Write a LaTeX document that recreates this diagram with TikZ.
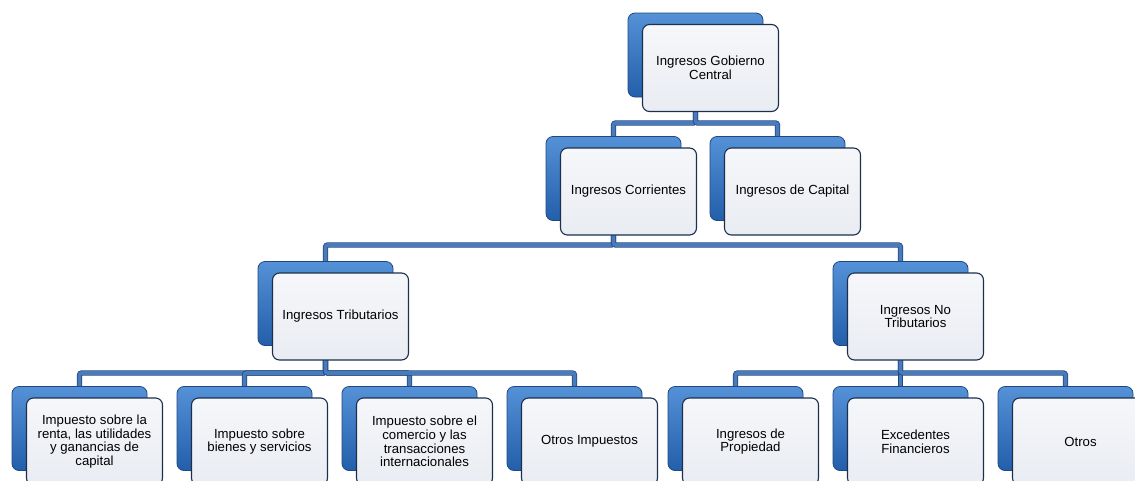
\documentclass[tikz,border=0pt]{standalone}
\usepackage{fontspec}
\setmainfont{Liberation Sans}
\usetikzlibrary{backgrounds}
\definecolor{azulfondo}{RGB}{35,95,170}
\definecolor{azulclaro}{RGB}{85,145,215}
\definecolor{bordeazul}{RGB}{32,72,128}
\definecolor{cajagris}{RGB}{233,236,242}
\definecolor{cajaclara}{RGB}{246,247,250}
\definecolor{bordecaja}{RGB}{28,48,78}
\definecolor{azullinea}{RGB}{72,122,188}
\begin{document}
\begin{tikzpicture}[
  x=1pt, y=-1pt,
  fondo/.style={rectangle, rounded corners=7pt, minimum width=135pt, minimum height=84pt, draw=bordeazul, line width=0.8pt, top color=azulclaro, bottom color=azulfondo},
  frente/.style={rectangle, rounded corners=7pt, minimum width=136pt, minimum height=87pt, draw=bordecaja, line width=1.1pt, top color=cajaclara, bottom color=cajagris, align=center, xshift=15pt, yshift=-13pt, font=\fontsize{13.2}{13.8}\selectfont},
  linea/.style={draw=bordeazul, line width=0.8pt, double=azullinea, double distance=3.6pt, rounded corners=2pt}
]
  \useasboundingbox (0,0) rectangle (1135,480);
  \clip (0,0) rectangle (1135,480);

  % nivel 1
  \node[fondo] (gobB) at (695.5,55) {};
  \node[frente] (gob) at (gobB) {Ingresos Gobierno\\Central};

  % nivel 2
  \node[fondo] (corB) at (613.5,178.5) {};
  \node[frente] (cor) at (corB) {Ingresos Corrientes};
  \node[fondo] (capB) at (777.5,178.5) {};
  \node[frente] (cap) at (capB) {Ingresos de Capital};

  % nivel 3
  \node[fondo] (triB) at (325.5,303.5) {};
  \node[frente] (tri) at (triB) {Ingresos Tributarios};
  \node[fondo] (notriB) at (900.5,303.5) {};
  \node[frente] (notri) at (notriB) {Ingresos No\\Tributarios};

  % nivel 4
  \node[fondo] (rentaB) at (79.5,428.5) {};
  \node[frente] (renta) at (rentaB) {Impuesto sobre la\\renta, las utilidades\\y ganancias de\\capital};
  \node[fondo] (bienesB) at (244.5,428.5) {};
  \node[frente] (bienes) at (bienesB) {Impuesto sobre\\bienes y servicios};
  \node[fondo] (comercioB) at (409.5,428.5) {};
  \node[frente] (comercio) at (comercioB) {Impuesto sobre el\\comercio y las\\transacciones\\internacionales};
  \node[fondo] (otrosimpB) at (574.5,428.5) {};
  \node[frente] (otrosimp) at (otrosimpB) {Otros Impuestos};
  \node[fondo] (propB) at (735.5,428.5) {};
  \node[frente] (prop) at (propB) {Ingresos de\\Propiedad};
  \node[fondo] (excB) at (900.5,428.5) {};
  \node[frente] (exc) at (excB) {Excedentes\\Financieros};
  \node[fondo] (otrosB) at (1065.5,428.5) {};
  \node[frente] (otros) at (otrosB) {Otros};

  \coordinate (barra1) at (0,123);
  \coordinate (barra2) at (0,245);
  \coordinate (barra3) at (0,373);

  \begin{pgfonlayer}{background}
    \draw[linea] (gobB.south) |- (barra1 -| corB) -- (corB.north);
    \draw[linea] (gobB.south) |- (barra1 -| capB) -- (capB.north);
    \draw[linea] (corB.south) |- (barra2 -| triB) -- (triB.north);
    \draw[linea] (corB.south) |- (barra2 -| notriB) -- (notriB.north);
    \foreach \h in {rentaB, bienesB, comercioB, otrosimpB}
      \draw[linea] (triB.south) |- (barra3 -| \h) -- (\h.north);
    \foreach \h in {propB, excB, otrosB}
      \draw[linea] (notriB.south) |- (barra3 -| \h) -- (\h.north);
  \end{pgfonlayer}
\end{tikzpicture}
\end{document}
